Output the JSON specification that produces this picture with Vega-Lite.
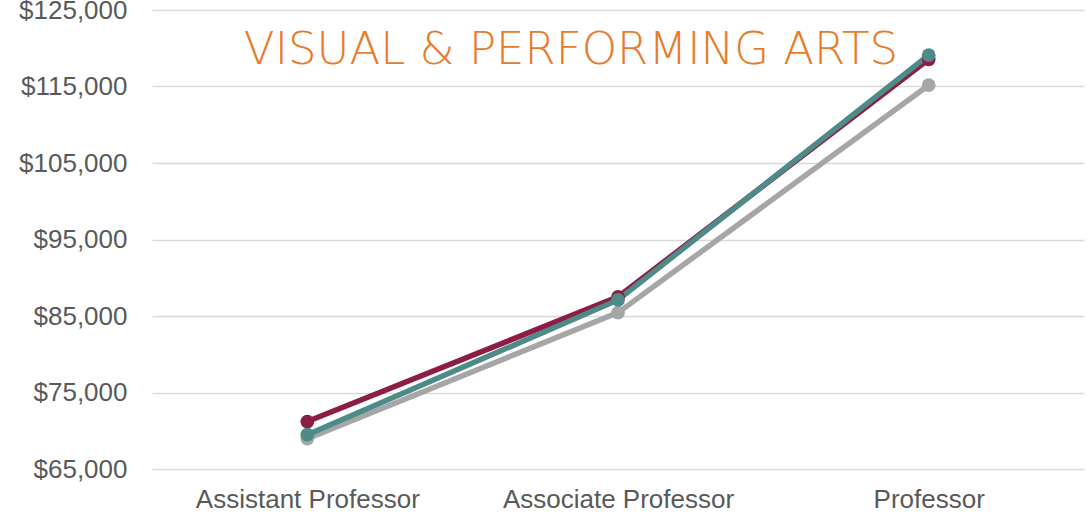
{
  "$schema": "https://vega.github.io/schema/vega-lite/v6.json",
  "width": 932,
  "height": 459,
  "autosize": {"type": "none"},
  "padding": {"left": 152, "top": 10, "right": 4, "bottom": 46},
  "background": "white",
  "config": {"view": {"stroke": null}, "font": "Liberation Sans"},
  "datasets": {
    "salaries": [
      {"rank": "Assistant Professor", "series": "National", "salary": 68960},
      {"rank": "Associate Professor", "series": "National", "salary": 85440},
      {"rank": "Professor", "series": "National", "salary": 115170},
      {"rank": "Assistant Professor", "series": "Institution", "salary": 71200},
      {"rank": "Associate Professor", "series": "Institution", "salary": 87500},
      {"rank": "Professor", "series": "Institution", "salary": 118560},
      {"rank": "Assistant Professor", "series": "Peer", "salary": 69480},
      {"rank": "Associate Professor", "series": "Peer", "salary": 87100},
      {"rank": "Professor", "series": "Peer", "salary": 119090}
    ],
    "heading": [{"label": "VISUAL & PERFORMING ARTS"}]
  },
  "layer": [
    {
      "data": {"name": "salaries"},
      "mark": {"type": "line", "strokeWidth": 5.5},
      "encoding": {
        "x": {
          "field": "rank",
          "type": "nominal",
          "scale": {"type": "point", "padding": 0.5, "domain": ["Assistant Professor", "Associate Professor", "Professor"]},
          "axis": {
            "title": null,
            "labelAngle": 0,
            "labelFontSize": 26,
            "labelLimit": 400,
            "labelColor": "#595959",
            "labelPadding": 17,
            "ticks": false,
            "domain": false,
            "grid": false
          }
        },
        "y": {
          "field": "salary",
          "type": "quantitative",
          "scale": {"domain": [65000, 125000], "nice": false, "zero": false},
          "axis": {
            "title": null,
            "values": [65000, 75000, 85000, 95000, 105000, 115000, 125000],
            "format": "$,.0f",
            "labelFontSize": 26,
            "labelColor": "#595959",
            "labelPadding": 25,
            "ticks": false,
            "domain": false,
            "gridColor": "#D9D9D9",
            "gridWidth": 1.5
          }
        },
        "color": {
          "field": "series",
          "type": "nominal",
          "scale": {"domain": ["National", "Institution", "Peer"], "range": ["#A6A6A6", "#8C1D45", "#4E8A87"]},
          "legend": null
        },
        "detail": {"field": "series"}
      }
    },
    {
      "data": {"name": "salaries"},
      "mark": {"type": "circle", "size": 190, "opacity": 1},
      "encoding": {
        "x": {"field": "rank", "type": "nominal"},
        "y": {"field": "salary", "type": "quantitative"},
        "color": {"field": "series", "type": "nominal", "legend": null},
        "order": {"field": "series"}
      }
    },
    {
      "data": {"name": "heading"},
      "mark": {
        "type": "text",
        "align": "center",
        "baseline": "alphabetic",
        "dx": -47,
        "font": "DejaVu Sans",
        "fontWeight": 200,
        "fontSize": 45,
        "fill": "#E87B2A"
      },
      "encoding": {
        "x": {"datum": "Associate Professor", "type": "nominal"},
        "y": {"datum": 117900, "type": "quantitative"},
        "text": {"field": "label"}
      }
    }
  ]
}
